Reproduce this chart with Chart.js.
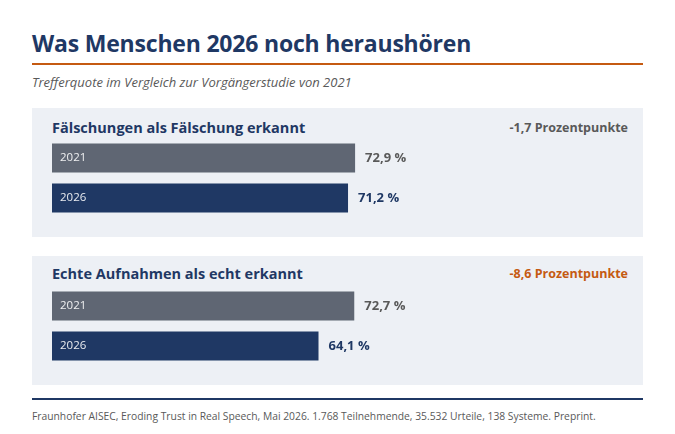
<!DOCTYPE html>
<html><head><meta charset="utf-8">
<script src="https://cdn.jsdelivr.net/npm/chart.js@4"></script>
<style>
body{margin:0;width:675px;height:434px;background:#fff;font-family:"Open Sans",sans-serif;position:relative;overflow:hidden}
.abs{position:absolute}
#title{left:32px;top:27px;font-size:23px;font-weight:700;color:#1f3864;letter-spacing:-0.2px}
#rule{left:32px;top:63px;width:611px;height:2px;background:#c55a11}
#sub{left:32px;top:73px;font-size:13px;font-style:italic;color:#595959}
.panel{left:32px;width:611px;height:129px;background:#edf0f5}
.head{left:52px;font-size:14.5px;font-weight:700;color:#1f3864}
.delta{right:47px;font-size:12.5px;font-weight:700}
#frule{left:32px;top:398px;width:611px;height:1.5px;background:#1f3864}
#foot{left:32px;top:409px;font-size:10.3px;color:#595959}
canvas{display:block}
</style></head><body>
<div id="title" class="abs">Was Menschen 2026 noch heraushören</div>
<div id="rule" class="abs"></div>
<div id="sub" class="abs">Trefferquote im Vergleich zur Vorgängerstudie von 2021</div>
<div class="abs panel" style="top:108px"></div>
<div class="abs panel" style="top:256px"></div>
<div class="abs head" style="top:118px">Fälschungen als Fälschung erkannt</div>
<div class="abs delta" style="top:119px;color:#595959">-1,7 Prozentpunkte</div>
<div class="abs head" style="top:264px">Echte Aufnahmen als echt erkannt</div>
<div class="abs delta" style="top:265px;color:#c55a11">-8,6 Prozentpunkte</div>
<div class="abs" style="left:52px;top:138px;width:580px;height:80px"><canvas id="c1"></canvas></div>
<div class="abs" style="left:52px;top:286px;width:580px;height:80px"><canvas id="c2"></canvas></div>
<div id="frule" class="abs"></div>
<div id="foot" class="abs">Fraunhofer AISEC, Eroding Trust in Real Speech, Mai 2026. 1.768 Teilnehmende, 35.532 Urteile, 138 Systeme. Preprint.</div>
<script>
const years=["2021","2026"];
const fakesValues=[72.9,71.2];
const realValues=[72.7,64.1];
const barColors=["#5f6673","#1f3864"];
const valueColors=["#595959","#1f3864"];
const fmt=v=>v.toFixed(1).replace('.',',')+' %';
const labelPlugin={id:'lbl',afterDatasetsDraw(ch){
 const ctx=ch.ctx;const meta=ch.getDatasetMeta(0);const data=ch.data.datasets[0].data;
 meta.data.forEach((b,i)=>{
  ctx.save();ctx.textBaseline='middle';
  ctx.font='11.5px "Open Sans"';ctx.fillStyle='rgba(255,255,255,0.9)';ctx.textAlign='left';
  ctx.fillText(ch.data.labels[i],b.base+8,b.y);
  ctx.font='bold 13px "Open Sans"';ctx.fillStyle=valueColors[i];
  ctx.fillText(fmt(data[i]),b.x+10,b.y);
  ctx.restore();});
}};
function make(id,vals){
 new Chart(document.getElementById(id),{type:'bar',
  data:{labels:years,datasets:[{data:vals,backgroundColor:barColors,barPercentage:0.725,categoryPercentage:1}]},
  options:{indexAxis:'y',responsive:true,maintainAspectRatio:false,animation:false,
   layout:{padding:0},plugins:{legend:{display:false},tooltip:{enabled:false}},
   scales:{x:{display:false,min:0,max:139.5},y:{display:false}}},
  plugins:[labelPlugin]});
}
make('c1',fakesValues);make('c2',realValues);
</script></body></html>
